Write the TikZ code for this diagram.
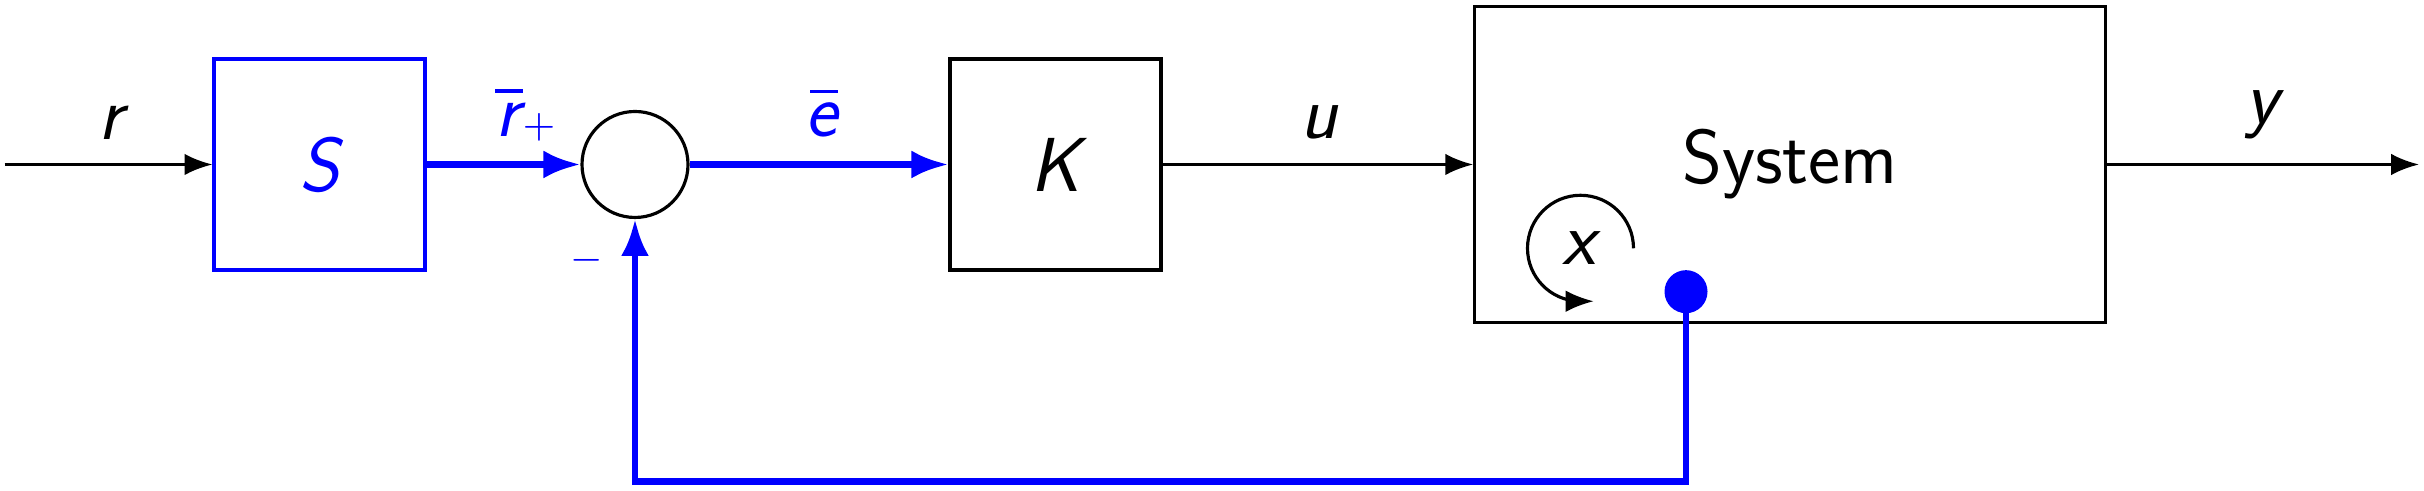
\documentclass[tikz,border=0pt]{standalone}
\usetikzlibrary{arrows.meta}
% letter with a bar over it: #1 = horizontal shift of the bar, #2 = letter
\newcommand\vb[2][0pt]{\leavevmode\setbox0\hbox{\slshape #2}%
  \rlap{\hbox to\wd0{\hss\kern#1\rule[9.6pt]{6.1pt}{0.75pt}\hss}}\box0}
\tikzset{
  sig/.style={draw=black, line width=0.7pt, -{Latex[length=6.2pt,width=4.8pt]}},
  bsig/.style={draw=blue, line width=1.5pt, -{Latex[length=8.2pt,width=6.2pt]}},
  blk/.style={draw=black, line width=0.7pt, rectangle, inner sep=0pt},
  bblk/.style={draw=blue, line width=0.7pt, rectangle, inner sep=0pt, text=blue},
  lab/.style={inner sep=0pt, anchor=south},
  sgn/.style={inner sep=0pt, text=blue, font=\fontsize{9}{10}\selectfont},
}
\begin{document}
\begin{tikzpicture}[x=0.222pt,y=-0.222pt, font=\fontsize{17}{20}\selectfont\sffamily]
\useasboundingbox (0,0) rectangle (2424,491);
% blocks
\node[bblk, minimum width=46.84pt, minimum height=46.84pt] (S) at (319.5,164.5) {\slshape S};
\node[circle, draw, line width=0.7pt, minimum size=23.53pt, inner sep=0pt] (sum) at (635,164.5) {};
\node[blk, minimum width=46.84pt, minimum height=46.84pt] (K) at (1055.5,164.5) {\slshape K};
\node[blk, minimum width=139.97pt, minimum height=70.06pt] (Sys) at (1790,164.5) {System};
\coordinate (in) at (4.6,164.5);
\coordinate (out) at (2419,164.5);
% signals
\draw[sig] (in) -- (S.west);
\draw[bsig] (S.east) -- (sum.west);
\draw[bsig] (sum.east) -- (K.west);
\draw[sig] (K.east) -- (Sys.west);
\draw[sig] (Sys.east) -- (out);
% feedback
\node[circle, fill=blue, minimum size=9.55pt, inner sep=0pt] (dot) at (1686,291.7) {};
\coordinate (corner) at (1686,481.5);
\draw[bsig] (dot.center) -- (corner) -| (sum.south);
% labels
\node[lab] (rl) at (111,140) {\slshape r};
\node[lab, text=blue] (rbl) at (508,137) {\vb[0.4pt]{r}};
\node[sgn] (plus) at (539,127) {$+$};
\node[sgn] (minus) at (586.7,260) {$-$};
\node[lab, text=blue] (el) at (821,138) {\vb[1.4pt]{e}};
\node[lab] (ul) at (1319,140) {\slshape u};
\node[lab] (yl) at (2262,140) {\slshape y};
\node[inner sep=0pt] (xl) at (1579,248) {\slshape x};
\coordinate (xc) at (1580.5,248.3);
\draw[sig] ([shift={(53,0)}]xc) arc[start angle=0, end angle=-268, radius=53] -- ++(15,0);
\end{tikzpicture}
\end{document}
